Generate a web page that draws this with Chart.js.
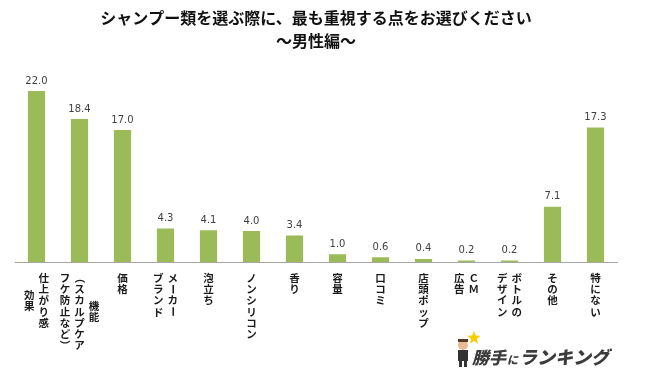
<!DOCTYPE html>
<html>
<head>
<meta charset="utf-8">
<script src="https://cdn.jsdelivr.net/npm/chart.js@4"></script>
<style>
  body { margin: 0; background: #fff; }
</style>
</head>
<body>
<canvas id="chart" width="650" height="386"></canvas>
<script>
// each label is a list of vertical columns, read right to left
const categories = [
    ['仕上がり感', '効果'],
    ['機能', '（スカルプケア', 'フケ防止など）'],
    ['価格'],
    ['メーカー', 'ブランド'],
    ['泡立ち'],
    ['ノンシリコン'],
    ['香り'],
    ['容量'],
    ['口コミ'],
    ['店頭ポップ'],
    ['ＣＭ', '広告'],
    ['ボトルの', 'デザイン'],
    ['その他'],
    ['特にない']
];
const values = [22.0, 18.4, 17.0, 4.3, 4.1, 4.0, 3.4, 1.0, 0.6, 0.4, 0.2, 0.2, 7.1, 17.3];
const titleLines = ['シャンプー類を選ぶ際に、最も重視する点をお選びください', '～男性編～'];

const jpFont = '"Noto Sans CJK JP", "Noto Sans", sans-serif';
const rotatedChars = 'ー（）～';

// value labels above bars
const valueLabels = {
    id: 'valueLabels',
    afterDatasetsDraw(chart) {
        const ctx = chart.ctx;
        const meta = chart.getDatasetMeta(0);
        ctx.save();
        ctx.font = '10px "DejaVu Sans", sans-serif';
        ctx.fillStyle = '#404040';
        ctx.textAlign = 'center';
        ctx.textBaseline = 'bottom';
        meta.data.forEach((bar, i) => {
            ctx.fillText(values[i].toFixed(1), bar.x, bar.y - 5);
        });
        ctx.restore();
    }
};

// vertical (tategaki) category labels under the axis
const verticalLabels = {
    id: 'verticalLabels',
    afterDraw(chart) {
        const ctx = chart.ctx;
        const xScale = chart.scales.x;
        const top = chart.chartArea.bottom + 16;
        const lh = 11.2, colGap = 14.5;
        ctx.save();
        ctx.font = 'bold 10.5px ' + jpFont;
        ctx.fillStyle = '#1a1a1a';
        ctx.textAlign = 'center';
        ctx.textBaseline = 'middle';
        categories.forEach((cols, i) => {
            const cx = xScale.getPixelForValue(i);
            const n = cols.length;
            const maxLen = Math.max(...cols.map(c => [...c].length));
            cols.forEach((col, j) => {
                const chars = [...col];
                const x = cx + ((n - 1) / 2 - j) * colGap;
                const y0 = top + (n > 1 ? (maxLen - chars.length) * lh / 2 : 0);
                chars.forEach((ch, k) => {
                    const y = y0 + k * lh;
                    if (rotatedChars.includes(ch)) {
                        ctx.save();
                        ctx.translate(x, y);
                        ctx.rotate(Math.PI / 2);
                        ctx.fillText(ch, 0, 0);
                        ctx.restore();
                    } else {
                        ctx.fillText(ch, x, y);
                    }
                });
            });
        });
        ctx.restore();
    }
};

// small site logo bottom right
const logo = {
    id: 'logo',
    afterDraw(chart) {
        const ctx = chart.ctx;
        ctx.save();
        // star
        ctx.fillStyle = '#f5d000';
        ctx.beginPath();
        for (let k = 0; k < 10; k++) {
            const r = k % 2 ? 3 : 7;
            const a = -Math.PI / 2 + k * Math.PI / 5;
            ctx.lineTo(474 + r * Math.cos(a), 338 + r * Math.sin(a));
        }
        ctx.closePath();
        ctx.fill();
        // figure
        ctx.fillStyle = '#e9b98f';
        ctx.beginPath();
        ctx.arc(463, 345, 5, 0, Math.PI * 2);
        ctx.fill();
        ctx.fillStyle = '#5a3a22';
        ctx.fillRect(458, 339, 10, 3);
        ctx.fillStyle = '#333';
        ctx.fillRect(458, 350, 10, 11);
        ctx.fillRect(459, 361, 3, 6);
        ctx.fillRect(464, 361, 3, 6);
        // text
        ctx.fillStyle = '#3c3c3c';
        ctx.textBaseline = 'alphabetic';
        ctx.font = 'italic 900 17px ' + jpFont;
        ctx.fillText('勝手', 472, 364);
        ctx.font = 'italic 900 11px ' + jpFont;
        ctx.fillText('に', 507, 364);
        ctx.font = 'italic 900 18px ' + jpFont;
        ctx.fillText('ランキング', 519, 364);
        ctx.restore();
    }
};

new Chart(document.getElementById('chart').getContext('2d'), {
    type: 'bar',
    data: {
        labels: categories.map(c => c.join('')),
        datasets: [{
            data: values,
            backgroundColor: '#9bbb59',
            borderWidth: 0,
            barPercentage: 0.4,
            categoryPercentage: 1.0
        }]
    },
    options: {
        responsive: false,
        animation: false,
        layout: { padding: { left: 15, right: 33, bottom: 116 } },
        plugins: {
            legend: { display: false },
            tooltip: { enabled: false },
            title: {
                display: true,
                text: titleLines,
                color: '#111',
                font: { family: jpFont, size: 16, weight: 'bold', lineHeight: 1.4 },
                padding: { top: 7, bottom: 16 }
            }
        },
        scales: {
            x: {
                grid: { display: false },
                border: { color: '#a6a6a6', width: 1 },
                ticks: { display: false }
            },
            y: {
                display: false,
                min: 0,
                max: 25
            }
        }
    },
    plugins: [valueLabels, verticalLabels, logo]
});
</script>
</body>
</html>
